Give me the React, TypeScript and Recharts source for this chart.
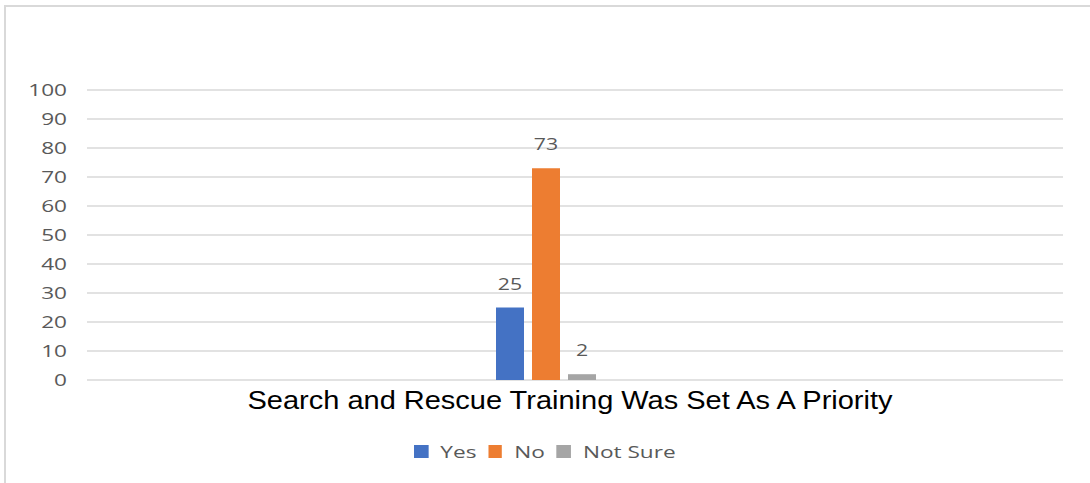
import React from 'react';
import { BarChart, Bar, XAxis, YAxis, CartesianGrid, Legend, LabelList, Label } from 'recharts';

const categories = ['Search and Rescue Training Was Set As A Priority'];
const yesValues = [25];
const noValues = [73];
const notSureValues = [2];
const seriesNames = ['Yes', 'No', 'Not Sure'];
const yTicks = [0, 10, 20, 30, 40, 50, 60, 70, 80, 90, 100];

const COLORS = ['#4472C4', '#ED7D31', '#A5A5A5'];
const FONT = '"Open Sans", "Noto Sans", sans-serif';
const TEXT_GREY = '#595959';
// the source picture is stretched sideways, so text gets a horizontal scale
const STRETCH = 1.33;

const data = categories.map((category, i) => ({
    category,
    [seriesNames[0]]: yesValues[i],
    [seriesNames[1]]: noValues[i],
    [seriesNames[2]]: notSureValues[i],
}));

const YTick = (props: any) => {
    const { x, y, payload } = props;
    return (
        <text
            transform={`translate(${x},${y}) scale(${STRETCH},1)`}
            textAnchor="end"
            dy="0.355em"
            fill={TEXT_GREY}
            fontSize={17}
            fontFamily={FONT}
        >
            {payload.value}
        </text>
    );
};

const ValueLabel = (props: any) => {
    const { x, y, width, value } = props;
    return (
        <text
            transform={`translate(${x + width / 2},${y - 18}) scale(1.25,1)`}
            textAnchor="middle"
            fill={TEXT_GREY}
            fontSize={17}
            fontFamily={FONT}
        >
            {value}
        </text>
    );
};

const CategoryLabel = (props: any) => {
    const { viewBox } = props;
    return (
        <text
            transform={`translate(${viewBox.x + viewBox.width / 2 - 5},${viewBox.y + 29}) scale(1.16,1)`}
            textAnchor="middle"
            fill="#000"
            fontSize={25}
            fontFamily='"Liberation Sans", Arial, sans-serif'
        >
            {categories[0]}
        </text>
    );
};

const LegendContent = () => (
    <div style={{ display: 'flex', justifyContent: 'center', transform: `scaleX(${STRETCH})` }}>
        <div style={{ display: 'flex', alignItems: 'center', fontFamily: FONT, fontSize: 17, color: TEXT_GREY }}>
            {seriesNames.map((name, i) => (
                <div key={name} style={{ display: 'flex', alignItems: 'center', marginRight: 9 }}>
                    <span style={{ width: 10.5, height: 13, background: COLORS[i], display: 'inline-block', marginRight: 9 }} />
                    <span>{name}</span>
                </div>
            ))}
        </div>
    </div>
);

export default function App() {
    return (
        <div style={{ position: 'absolute', left: 0, top: 0, width: 1090, height: 483, background: '#fff', overflow: 'hidden' }}>
            <div style={{ position: 'absolute', left: 4, top: 5, width: 1200, height: 600, border: '2px solid #d9d9d9' }} />
            <BarChart
                width={1090}
                height={483}
                data={data}
                margin={{ top: 90, right: 27, left: 0, bottom: 0 }}
                barSize={28}
                barGap={8}
                style={{ position: 'absolute', left: 0, top: 0 }}
            >
                <CartesianGrid vertical={false} stroke="#d9d9d9" strokeWidth={1.5} />
                <XAxis
                    dataKey="category"
                    height={103}
                    tick={false}
                    axisLine={false}
                    tickLine={false}
                    padding={{ left: 0, right: 58 }}
                >
                    <Label content={<CategoryLabel />} />
                </XAxis>
                <YAxis
                    width={87}
                    domain={[0, 100]}
                    ticks={yTicks}
                    axisLine={false}
                    tickLine={false}
                    tickSize={20}
                    tickMargin={0}
                    tick={<YTick />}
                />
                <Legend
                    verticalAlign="middle"
                    align="center"
                    content={<LegendContent />}
                    wrapperStyle={{ top: 440, left: 6, width: 1090 }}
                />
                {seriesNames.map((name, i) => (
                    <Bar key={name} dataKey={name} fill={COLORS[i]} isAnimationActive={false}>
                        <LabelList dataKey={name} content={<ValueLabel />} />
                    </Bar>
                ))}
            </BarChart>
        </div>
    );
}
